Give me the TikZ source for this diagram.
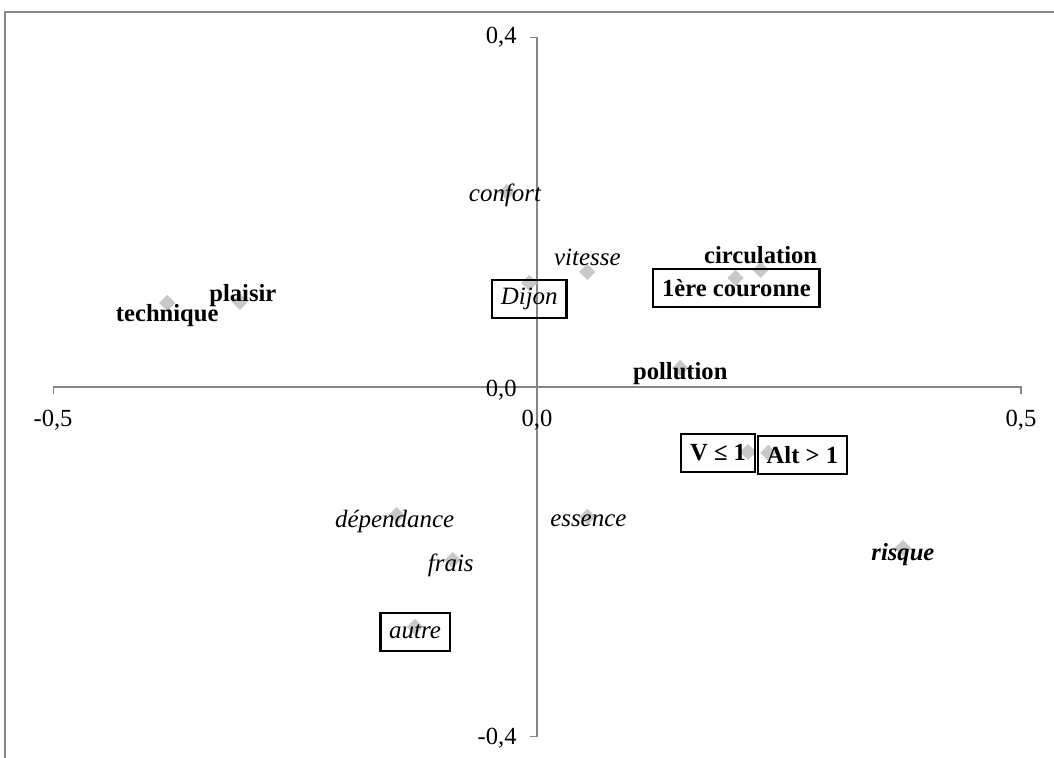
\documentclass[tikz,border=0pt]{standalone}
\usepackage{fontspec}
\setmainfont{Liberation Serif}
\usetikzlibrary{shapes.geometric}

\definecolor{axisgray}{RGB}{134,134,134}
\definecolor{markgray}{RGB}{200,200,200}

\begin{document}
\begin{tikzpicture}[x=19.36cm,y=17.48cm,font=\fontsize{14}{16}\selectfont,
  datapt/.style={diamond,fill=markgray,inner sep=0pt,minimum size=0.33cm},
  ital/.style={inner sep=0pt,font=\fontsize{14.2}{16}\selectfont\itshape},
  bold/.style={inner sep=0pt,font=\fontsize{14}{16}\selectfont\bfseries},
  boxed/.style={draw,line width=1.3pt,inner xsep=5pt,inner ysep=0pt,minimum height=0.75cm},
  ticklab/.style={inner sep=0pt}]

% Page
\useasboundingbox (-0.5548,-0.4245) rectangle (0.5341,0.4428);
\draw[axisgray,line width=1.2pt] (-0.5496,-0.4245) -- (-0.5496,0.4291) -- (0.5341,0.4291);

% Axes
\draw[axisgray,line width=0.6pt] (-0.5,-0.008) -- (-0.5,0) -- (0.5,0) -- (0.5,-0.008);
\draw[axisgray,line width=0.6pt] (-0.0072,0.4) -- (0,0.4) -- (0,-0.4) -- (-0.0072,-0.4);

\node[ticklab] (xmin) at (-0.5,-0.038) {-0,5};
\node[ticklab] (xzero) at (0,-0.038) {0,0};
\node[ticklab] (xmax) at (0.5,-0.038) {0,5};
\node[ticklab,anchor=east] (ymax) at (-0.0207,0.4) {0,4};
\node[ticklab,anchor=east] (yzero) at (-0.0207,-0.004) {0,0};
\node[ticklab,anchor=east] (ymin) at (-0.0207,-0.402) {-0,4};

% Points
\node[datapt] (mConfort) at (-0.031,0.2231) {};
\node[datapt] (mVitesse) at (0.052,0.1316) {};
\node[datapt] (mDijon) at (-0.008,0.119) {};
\node[datapt] (mCirculation) at (0.231,0.1339) {};
\node[datapt] (mCouronne) at (0.205,0.1247) {};
\node[datapt] (mPollution) at (0.148,0.0217) {};
\node[datapt] (mTechnique) at (-0.382,0.0961) {};
\node[datapt] (mPlaisir) at (-0.307,0.0973) {};
\node[datapt] (mV) at (0.218,-0.0744) {};
\node[datapt] (mAlt) at (0.239,-0.0755) {};
\node[datapt] (mRisque) at (0.378,-0.1842) {};
\node[datapt] (mDependance) at (-0.145,-0.1465) {};
\node[datapt] (mEssence) at (0.052,-0.1487) {};
\node[datapt] (mFrais) at (-0.087,-0.1979) {};
\node[datapt] (mAutre) at (-0.126,-0.2746) {};

% Labels
\node[ital,xshift=-0.04cm,yshift=-0.06cm] (tConfort) at (mConfort) {confort};
\node[ital,yshift=0.30cm] (tVitesse) at (mVitesse) {vitesse};
\node[ital,boxed,yshift=-0.32cm] (tDijon) at (mDijon) {Dijon};
\node[bold,yshift=0.30cm] (tCirculation) at (mCirculation) {circulation};
\node[bold,boxed,xshift=0.02cm,yshift=-0.20cm] (tCouronne) at (mCouronne) {1ère couronne};
\node[bold,yshift=-0.12cm] (tPollution) at (mPollution) {pollution};
\node[bold,yshift=-0.26cm] (tTechnique) at (mTechnique) {technique};
\node[bold,xshift=0.06cm,yshift=0.12cm] (tPlaisir) at (mPlaisir) {plaisir};
\node[bold,boxed,xshift=-0.60cm,yshift=-0.02cm] (tV) at (mV) {V ≤ 1};
\node[bold,boxed,xshift=0.68cm,yshift=-0.04cm] (tAlt) at (mAlt) {Alt > 1};
\node[bold,font=\fontsize{14}{16}\selectfont\bfseries\itshape,yshift=-0.14cm] (tRisque) at (mRisque) {risque};
\node[ital,xshift=-0.04cm,yshift=-0.12cm] (tDependance) at (mDependance) {dépendance};
\node[ital,xshift=0.02cm,yshift=-0.08cm] (tEssence) at (mEssence) {essence};
\node[ital,xshift=-0.04cm,yshift=-0.10cm] (tFrais) at (mFrais) {frais};
\node[ital,boxed,yshift=-0.10cm] (tAutre) at (mAutre) {autre};

\end{tikzpicture}
\end{document}
